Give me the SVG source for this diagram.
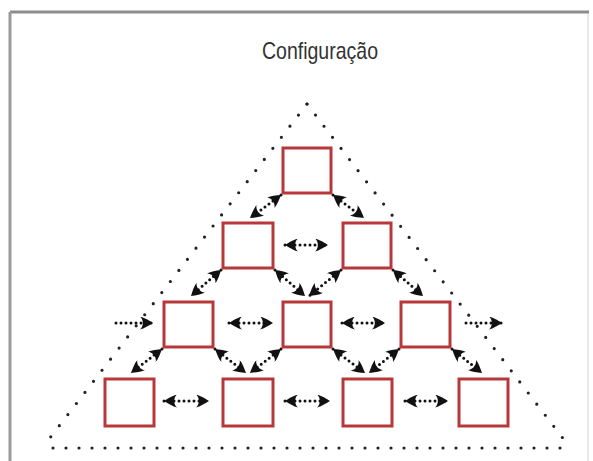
<svg xmlns="http://www.w3.org/2000/svg" width="593" height="461" viewBox="0 0 593 461">
<defs>
<style>
.box{fill:#ffffff;stroke:#b8383a;stroke-width:3}
.tri{fill:none;stroke:#222;stroke-width:3.2;stroke-linecap:round}
.c{fill:none;stroke:#111;stroke-width:3;stroke-linecap:round;stroke-dasharray:0 5}
.title{font-family:"Liberation Sans",Arial,sans-serif;font-size:24px;fill:#333}
</style>
<marker id="ah" viewBox="0 -6 12 12" refX="12" refY="0" markerWidth="13" markerHeight="13" markerUnits="userSpaceOnUse" orient="auto-start-reverse">
<path d="M12,0 C8,-2.5 4,-5 0,-6 C3.5,-3 3.5,3 0,6 C4,5 8,2.5 12,0 Z" fill="#111"/>
</marker>
</defs>
<rect x="0" y="0" width="593" height="461" fill="#ffffff"/>
<g id="frame">
<line x1="10" y1="12" x2="589" y2="12" stroke="#8c8c8c" stroke-width="3"/>
<line x1="10" y1="12" x2="10" y2="461" stroke="#9a9a9a" stroke-width="3"/>
<line x1="588" y1="14" x2="588" y2="461" stroke="#e2e2e2" stroke-width="1.5"/>
</g>
<g id="title">
<text class="title" x="262" y="59" textLength="116" lengthAdjust="spacingAndGlyphs">Configuração</text>
</g>
<g id="triangle">
<line class="tri" x1="307" y1="104" x2="46" y2="443" stroke-dasharray="0 14"/>
<line class="tri" x1="307" y1="104" x2="565" y2="441" stroke-dasharray="0 14"/>
<line class="tri" x1="53" y1="448" x2="565" y2="448" stroke-dasharray="0 13"/>
</g>
<g id="connectors">
<line class="c" x1="281" y1="195" x2="250" y2="218" marker-start="url(#ah)" marker-end="url(#ah)"/>
<line class="c" x1="333" y1="195" x2="364" y2="218" marker-start="url(#ah)" marker-end="url(#ah)"/>
<line class="c" x1="285" y1="245" x2="328" y2="245" marker-start="url(#ah)" marker-end="url(#ah)"/>
<line class="c" x1="221" y1="270" x2="191" y2="296" marker-start="url(#ah)" marker-end="url(#ah)"/>
<line class="c" x1="275" y1="270" x2="305" y2="296" marker-start="url(#ah)" marker-end="url(#ah)"/>
<line class="c" x1="341" y1="270" x2="309" y2="296" marker-start="url(#ah)" marker-end="url(#ah)"/>
<line class="c" x1="393" y1="270" x2="423" y2="296" marker-start="url(#ah)" marker-end="url(#ah)"/>
<line class="c" x1="116" y1="323" x2="153" y2="323" marker-end="url(#ah)"/>
<line class="c" x1="229" y1="323" x2="273" y2="323" marker-start="url(#ah)" marker-end="url(#ah)"/>
<line class="c" x1="342" y1="323" x2="385" y2="323" marker-start="url(#ah)" marker-end="url(#ah)"/>
<line class="c" x1="466" y1="323" x2="502" y2="323" marker-end="url(#ah)"/>
<line class="c" x1="162" y1="349" x2="131" y2="373" marker-start="url(#ah)" marker-end="url(#ah)"/>
<line class="c" x1="215" y1="349" x2="246" y2="373" marker-start="url(#ah)" marker-end="url(#ah)"/>
<line class="c" x1="281" y1="349" x2="250" y2="373" marker-start="url(#ah)" marker-end="url(#ah)"/>
<line class="c" x1="333" y1="349" x2="365" y2="373" marker-start="url(#ah)" marker-end="url(#ah)"/>
<line class="c" x1="399" y1="349" x2="369" y2="373" marker-start="url(#ah)" marker-end="url(#ah)"/>
<line class="c" x1="452" y1="349" x2="482" y2="373" marker-start="url(#ah)" marker-end="url(#ah)"/>
<line class="c" x1="164" y1="401" x2="209" y2="401" marker-start="url(#ah)" marker-end="url(#ah)"/>
<line class="c" x1="285" y1="401" x2="330" y2="401" marker-start="url(#ah)" marker-end="url(#ah)"/>
<line class="c" x1="405" y1="401" x2="448" y2="401" marker-start="url(#ah)" marker-end="url(#ah)"/>
</g>
<g id="n1"><rect class="box" x="283" y="148" width="48" height="45"/></g>
<g id="n2"><rect class="box" x="223" y="223" width="50" height="45"/></g>
<g id="n3"><rect class="box" x="343" y="223" width="48" height="45"/></g>
<g id="n4"><rect class="box" x="164" y="302" width="49" height="45"/></g>
<g id="n5"><rect class="box" x="283" y="302" width="48" height="45"/></g>
<g id="n6"><rect class="box" x="401" y="302" width="49" height="45"/></g>
<g id="n7"><rect class="box" x="105" y="379" width="49" height="47"/></g>
<g id="n8"><rect class="box" x="223" y="379" width="50" height="47"/></g>
<g id="n9"><rect class="box" x="343" y="379" width="49" height="47"/></g>
<g id="n10"><rect class="box" x="459" y="379" width="49" height="47"/></g>
</svg>
